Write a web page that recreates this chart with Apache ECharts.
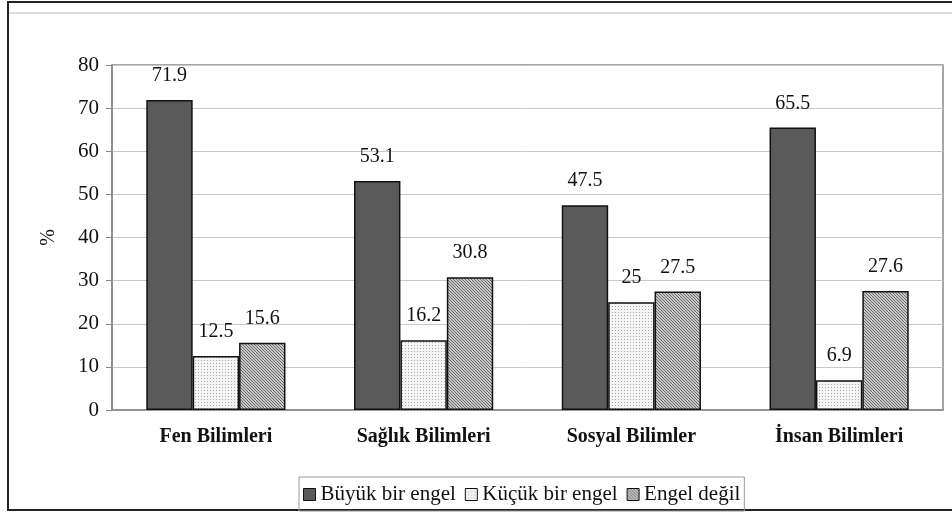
<!DOCTYPE html>
<html><head><meta charset="utf-8">
<script src="https://cdn.jsdelivr.net/npm/echarts@6/dist/echarts.min.js"></script>
<style>html,body{margin:0;padding:0;background:#fff}#c{width:952px;height:513px}</style>
</head><body><div id="c"></div>
<script>
const categories = ['Fen Bilimleri', 'Sağlık Bilimleri', 'Sosyal Bilimler', 'İnsan Bilimleri'];
const seriesNames = ['Büyük bir engel', 'Küçük bir engel', 'Engel değil'];
const buyuk = [71.9, 53.1, 47.5, 65.5];
const kucuk = [12.5, 16.2, 25, 6.9];
const engelDegil = [15.6, 30.8, 27.5, 27.6];
const yTicks = [0, 10, 20, 30, 40, 50, 60, 70, 80];

function dotPattern() {
  const c = document.createElement('canvas'); c.width = 3; c.height = 3;
  const g = c.getContext('2d'); g.fillStyle = '#f4f4f4'; g.fillRect(0, 0, 3, 3);
  g.fillStyle = '#a8a8a8'; g.fillRect(0, 0, 1, 1);
  return c;
}
function hatchPattern() {
  const c = document.createElement('canvas'); c.width = 3; c.height = 3;
  const g = c.getContext('2d'); g.fillStyle = '#c8c8c8'; g.fillRect(0, 0, 3, 3);
  g.fillStyle = '#6a6a6a';
  g.fillRect(0, 0, 1, 1); g.fillRect(1, 1, 1, 1); g.fillRect(2, 2, 1, 1);
  return c;
}
const fills = ['#5a5a5a', {image: dotPattern(), repeat: 'repeat'}, {image: hatchPattern(), repeat: 'repeat'}];
const dataSets = [buyuk, kucuk, engelDegil];
const font = 'Liberation Serif';

const chart = echarts.init(document.getElementById('c'));
chart.setOption({
  backgroundColor: '#fff',
  animation: false,
  textStyle: {fontFamily: font},
  graphic: [
    {type: 'rect', shape: {x: 8, y: 2, width: 950, height: 508}, style: {fill: 'none', stroke: '#222', lineWidth: 2}, silent: true},
    {type: 'line', shape: {x1: 9, y1: 13, x2: 952, y2: 13}, style: {stroke: '#bbb', lineWidth: 1}, silent: true}
  ],
  legend: {
    bottom: 2, left: 299,
    itemWidth: 12, itemHeight: 12, itemGap: 9,
    padding: [7, 4, 6, 4],
    borderColor: '#999', borderWidth: 1,
    textStyle: {fontFamily: font, fontSize: 21, color: '#111'},
    data: seriesNames.map((n, i) => ({name: n, icon: 'rect', itemStyle: {color: fills[i], borderColor: '#111', borderWidth: 1}}))
  },
  grid: {left: 112, top: 65, right: 9, bottom: 103, show: true, borderColor: '#888', borderWidth: 1.5},
  xAxis: {
    type: 'category', data: categories,
    axisLine: {lineStyle: {color: '#888', width: 1.5}},
    axisTick: {show: false},
    axisLabel: {fontFamily: font, fontWeight: 'bold', fontSize: 20, color: '#111', margin: 17}
  },
  yAxis: {
    type: 'value', min: 0, max: 80, interval: 10,
    name: '%', nameLocation: 'middle', nameGap: 53, nameRotate: 90,
    nameTextStyle: {fontFamily: font, fontSize: 20, color: '#111'},
    axisLine: {show: true, lineStyle: {color: '#888', width: 1.5}},
    axisTick: {show: true, length: 6, lineStyle: {color: '#888'}},
    axisLabel: {fontFamily: font, fontSize: 21, color: '#111', margin: 13,
      formatter: v => yTicks.includes(v) ? String(v) : ''},
    splitLine: {lineStyle: {color: '#c8c8c8', width: 1}}
  },
  series: seriesNames.map((n, i) => ({
    name: n, type: 'bar', data: dataSets[i],
    barGap: '0%', barCategoryGap: '33%',
    itemStyle: {color: fills[i], borderColor: '#111', borderWidth: 1.5},
    label: {show: true, position: 'top', distance: 14, fontFamily: font, fontSize: 20, color: '#111'}
  }))
});
</script></body></html>
